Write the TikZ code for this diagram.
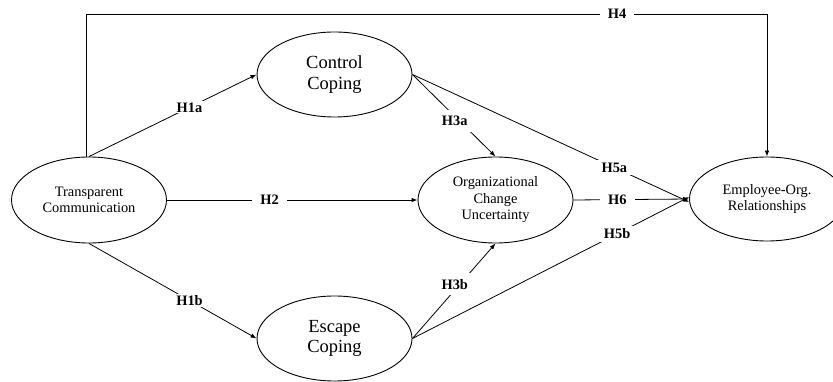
\documentclass[tikz,border=0pt]{standalone}
\usepackage{fontspec}
\setmainfont{Liberation Serif}
\usetikzlibrary{shapes.geometric,arrows.meta}
\tikzset{
  construct/.style={draw, line width=0.9pt, ellipse, inner sep=0pt, minimum width=155pt, minimum height=86pt, align=center, font=\fontsize{14.4}{16.5}\selectfont},
  bigconstruct/.style={construct, minimum height=85pt, font=\fontsize{18.5}{20.5}\selectfont},
  lbl/.style={fill=white, font=\bfseries\fontsize{14.4}{16}\selectfont, inner xsep=8pt, inner ysep=1pt},
  arr/.style={line width=0.8pt, -{Latex[length=6pt,width=4.5pt]}},
  ln/.style={line width=0.8pt}
}
\begin{document}
\begin{tikzpicture}[x=1pt,y=-1pt]
\useasboundingbox (0,0) rectangle (833,382);
\node[construct] (tc) at (89,200) {Transparent\\Communication};
\node[bigconstruct] (cc) at (334.5,74.5) {Control\\Coping};
\node[bigconstruct] (ec) at (334.5,338.5) {Escape\\Coping};
\node[construct] (ocu) at (495.5,200) {Organizational\\Change\\Uncertainty};
\node[construct, minimum height=84pt] (emp) at (767,199) {Employee-Org.\\Relationships};
\coordinate (h4l) at (86,14);
\coordinate (h4r) at (767,14);
\draw[arr] ([xshift=-3pt]tc.north) -- (h4l) -- node[lbl, pos=0.78] {H4} (h4r) -- (emp.north);
\draw[arr] (tc.north) -- node[lbl, pos=0.6] {H1a} (cc.west);
\draw[arr] (tc.south) -- node[lbl, pos=0.6] {H1b} (ec.west);
\draw[arr] (tc.east) -- node[lbl, pos=0.41] {H2} (ocu.west);
\draw[arr] (cc.east) -- node[lbl, pos=0.57, xshift=-5pt, inner ysep=6pt] {H3a} (ocu.north);
\draw[arr] (ec.east) -- node[lbl, pos=0.57, xshift=-5pt, inner ysep=6pt] {H3b} (ocu.south);
\draw[arr] (cc.east) -- node[lbl, pos=0.73, inner ysep=3pt] {H5a} ([yshift=-3pt]emp.west);
\draw[arr] (ec.east) -- node[lbl, pos=0.74, inner ysep=3pt] {H5b} ([yshift=2pt]emp.west);
\draw[arr] (ocu.east) -- node[lbl, pos=0.38] {H6} (emp.west);
\end{tikzpicture}
\end{document}
